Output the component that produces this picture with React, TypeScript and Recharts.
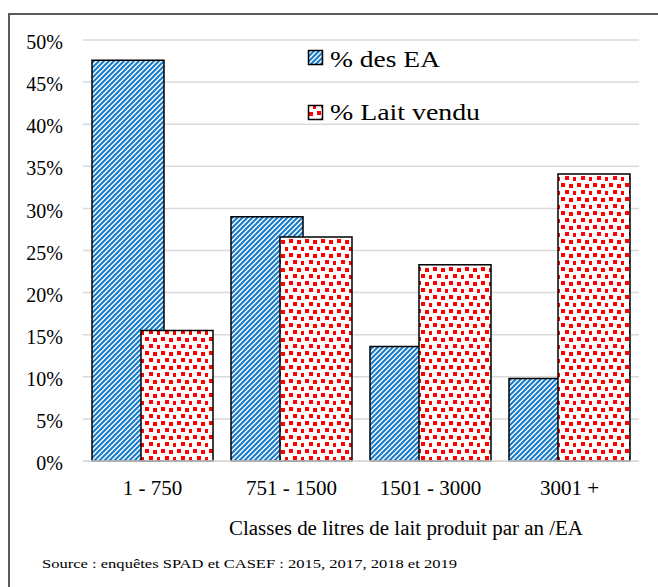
import { Bar, BarChart, CartesianGrid, Legend, XAxis, YAxis } from "recharts";

// classes de production (litres / an / EA)
const categories = ["1 - 750", "751 - 1500", "1501 - 3000", "3001 +"];
const desEA = [47.6, 29.0, 13.6, 9.8];
const laitVendu = [15.5, 26.6, 23.3, 34.1];
const yTicks = [0, 5, 10, 15, 20, 25, 30, 35, 40, 45, 50];
const seriesNames = ["% des EA", "% Lait vendu"];
const xTitle = "Classes de litres de lait produit par an /EA";
const sourceNote = "Source : enquêtes SPAD et CASEF : 2015, 2017, 2018 et 2019";

const data = categories.map((cat, i) => ({
  cat,
  ea: desEA[i],
  lait: laitVendu[i],
}));

const SERIF = '"Times New Roman", "Liberation Serif", Tinos, serif';
const BLUE = "#1c7dcb";
const RED = "#ff0000";

// confetti squares inside one 16x14 tile
const confetti = [
  [1, 1],
  [9, 2],
  [5, 8],
  [13, 9],
];

function Patterns({ prefix }: { prefix: string }) {
  return (
    <defs>
      <pattern
        id={`${prefix}Blue`}
        width={5}
        height={5}
        patternUnits="userSpaceOnUse"
      >
        <rect width={5} height={5} fill="#fff" />
        <path
          d="M-1,1 L1,-1 M0,5 L5,0 M4,6 L6,4"
          stroke={BLUE}
          strokeWidth={2.2}
        />
      </pattern>
      <pattern
        id={`${prefix}Red`}
        width={16}
        height={14}
        patternUnits="userSpaceOnUse"
      >
        <rect width={16} height={14} fill="#fff" />
        {confetti.map(([x, y], i) => (
          <rect key={i} x={x} y={y} width={4} height={4} fill={RED} />
        ))}
      </pattern>
    </defs>
  );
}

const legendIconY = [10, 65];
const legendTextY = [26.5, 80];
const legendTextLen = [110, 150];
const legendFills = ["url(#legBlue)", "url(#legRed)"];

const renderLegend = () => (
  <svg width={200} height={90} style={{ display: "block", overflow: "visible" }}>
    <Patterns prefix="leg" />
    {seriesNames.map((name, i) => (
      <g key={name}>
        <rect
          x={8.5}
          y={legendIconY[i] + 0.5}
          width={14}
          height={14}
          fill={legendFills[i]}
          stroke="#000"
          strokeWidth={1.5}
        />
        <text
          x={30}
          y={legendTextY[i]}
          fontFamily={SERIF}
          fontSize={23}
          fill="#000"
          textLength={legendTextLen[i]}
          lengthAdjust="spacingAndGlyphs"
        >
          {name}
        </text>
      </g>
    ))}
  </svg>
);

function AxisTitle(props: any) {
  const vb = props.viewBox ?? { x: 83, y: 461, width: 556 };
  const cx = vb.x + vb.width / 2 + 45;
  return (
    <g>
      <text
        x={cx}
        y={vb.y + 74}
        textAnchor="middle"
        fontFamily={SERIF}
        fontSize={20}
        fill="#000"
        textLength={354}
        lengthAdjust="spacingAndGlyphs"
      >
        {xTitle}
      </text>
      <text
        x={42}
        y={vb.y + 107}
        fontFamily={SERIF}
        fontSize={13.5}
        fill="#000"
        textLength={415}
        lengthAdjust="spacingAndGlyphs"
      >
        {sourceNote}
      </text>
    </g>
  );
}

export default function App() {
  return (
    <div
      style={{
        position: "relative",
        width: 658,
        height: 587,
        overflow: "hidden",
        background: "#fff",
      }}
    >
      <style>{"body{margin:0}"}</style>
      <div
        style={{
          position: "absolute",
          left: 8,
          top: 13,
          width: 700,
          height: 700,
          borderLeft: "2px solid #5a5a5a",
          borderTop: "2px solid #5a5a5a",
        }}
      />
      <div style={{ position: "absolute", left: 0, top: 0 }}>
        <BarChart
          width={658}
          height={587}
          data={data}
          margin={{ top: 40, right: 19, bottom: 0, left: 0 }}
          barSize={72}
          barGap={-23}
        >
          <Patterns prefix="bar" />
          <CartesianGrid
            vertical={false}
            stroke="#d9d9d9"
            strokeWidth={1.5}
          />
          <XAxis
            dataKey="cat"
            height={126}
            tickSize={0}
            tickMargin={19}
            tickLine={false}
            axisLine={{ stroke: "#d9d9d9", strokeWidth: 1.5 }}
            tick={{ fontFamily: SERIF, fontSize: 21, fill: "#000" }}
            label={<AxisTitle />}
          />
          <YAxis
            width={83}
            domain={[0, 50]}
            ticks={yTicks}
            interval={0}
            tickSize={0}
            tickMargin={20}
            tickLine={false}
            axisLine={false}
            tickFormatter={(v) => `${v}%`}
            tick={{ fontFamily: SERIF, fontSize: 20, fill: "#000", dy: 2 }}
          />
          <Legend
            content={renderLegend}
            layout="vertical"
            align="center"
            verticalAlign="middle"
            wrapperStyle={{ top: 40, left: 300, width: 200, height: 90 }}
          />
          <Bar
            dataKey="ea"
            name={seriesNames[0]}
            fill="url(#barBlue)"
            stroke="#000"
            strokeWidth={1.5}
            isAnimationActive={false}
          />
          <Bar
            dataKey="lait"
            name={seriesNames[1]}
            fill="url(#barRed)"
            stroke="#000"
            strokeWidth={1.5}
            isAnimationActive={false}
          />
        </BarChart>
      </div>
    </div>
  );
}
